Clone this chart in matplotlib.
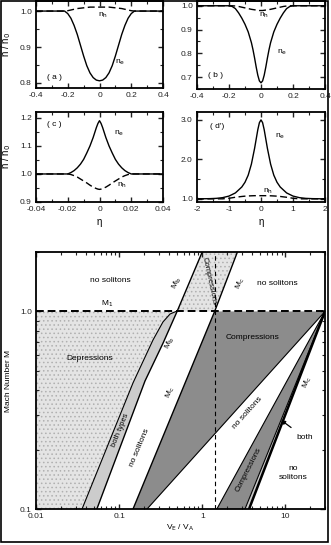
import matplotlib
matplotlib.use("Agg")
import matplotlib.pyplot as plt
from matplotlib.patches import Rectangle
from matplotlib.ticker import MultipleLocator, FuncFormatter, FixedLocator, LogLocator, NullFormatter

plt.rcParams["font.family"] = ["Liberation Sans", "DejaVu Sans"]
plt.rcParams["axes.unicode_minus"] = False
plt.rcParams["hatch.linewidth"] = 0.6

# soliton profiles, n / n0 against eta
eta_a = [-0.4, -0.3, -0.22, -0.2, -0.18, -0.16, -0.14, -0.12, -0.10, -0.08, -0.06, -0.04, -0.02, 0.0,
         0.02, 0.04, 0.06, 0.08, 0.10, 0.12, 0.14, 0.16, 0.18, 0.2, 0.22, 0.3, 0.4]
ne_a = [1.0, 1.0, 1.0, 0.993, 0.98, 0.96, 0.935, 0.905, 0.875, 0.848, 0.828, 0.815, 0.808, 0.806,
        0.808, 0.815, 0.828, 0.848, 0.875, 0.905, 0.935, 0.96, 0.98, 0.993, 1.0, 1.0, 1.0]
nh_a = [1.0, 1.0, 1.0, 1.001, 1.003, 1.005, 1.007, 1.008, 1.009, 1.010, 1.011, 1.011, 1.011, 1.011,
        1.011, 1.011, 1.011, 1.010, 1.009, 1.008, 1.007, 1.005, 1.003, 1.001, 1.0, 1.0, 1.0]

eta_b = [-0.4, -0.3, -0.2, -0.18, -0.16, -0.14, -0.12, -0.10, -0.08, -0.06, -0.05, -0.04, -0.03, -0.02, -0.01, 0.0,
         0.01, 0.02, 0.03, 0.04, 0.05, 0.06, 0.08, 0.10, 0.12, 0.14, 0.16, 0.18, 0.2, 0.3, 0.4]
ne_b = [1.0, 1.0, 1.0, 0.997, 0.988, 0.97, 0.948, 0.922, 0.89, 0.845, 0.815, 0.78, 0.742, 0.708, 0.684, 0.676,
        0.684, 0.708, 0.742, 0.78, 0.815, 0.845, 0.89, 0.922, 0.948, 0.97, 0.988, 0.997, 1.0, 1.0, 1.0]
nh_b = [1.0, 1.0, 1.0, 1.0, 0.999, 0.997, 0.994, 0.991, 0.988, 0.985, 0.984, 0.983, 0.982, 0.981, 0.98, 0.98,
        0.98, 0.981, 0.982, 0.983, 0.984, 0.985, 0.988, 0.991, 0.994, 0.997, 0.999, 1.0, 1.0, 1.0, 1.0]

eta_c = [-0.04, -0.03, -0.02, -0.018, -0.016, -0.014, -0.012, -0.010, -0.008, -0.006, -0.004, -0.002, -0.001, 0.0,
         0.001, 0.002, 0.004, 0.006, 0.008, 0.010, 0.012, 0.014, 0.016, 0.018, 0.02, 0.03, 0.04]
ne_c = [1.0, 1.0, 1.0, 1.005, 1.012, 1.022, 1.035, 1.052, 1.075, 1.10, 1.13, 1.165, 1.18, 1.19,
        1.18, 1.165, 1.13, 1.10, 1.075, 1.052, 1.035, 1.022, 1.012, 1.005, 1.0, 1.0, 1.0]
nh_c = [1.0, 1.0, 1.0, 0.998, 0.994, 0.989, 0.982, 0.975, 0.968, 0.96, 0.953, 0.948, 0.946, 0.945,
        0.946, 0.948, 0.953, 0.96, 0.968, 0.975, 0.982, 0.989, 0.994, 0.998, 1.0, 1.0, 1.0]

eta_d = [-2.0, -1.6, -1.4, -1.2, -1.0, -0.8, -0.6, -0.5, -0.4, -0.3, -0.2, -0.1, -0.05, 0.0,
         0.05, 0.1, 0.2, 0.3, 0.4, 0.5, 0.6, 0.8, 1.0, 1.2, 1.4, 1.6, 2.0]
ne_d = [1.0, 1.005, 1.012, 1.03, 1.07, 1.15, 1.30, 1.42, 1.60, 1.88, 2.28, 2.75, 2.93, 3.0,
        2.93, 2.75, 2.28, 1.88, 1.60, 1.42, 1.30, 1.15, 1.07, 1.03, 1.012, 1.005, 1.0]
nh_d = [1.0, 1.0, 1.0, 1.0, 1.015, 1.04, 1.06, 1.068, 1.073, 1.077, 1.08, 1.08, 1.08, 1.08,
        1.08, 1.08, 1.08, 1.077, 1.073, 1.068, 1.06, 1.04, 1.015, 1.0, 1.0, 1.0, 1.0]

# existence diagram boundaries, (V_E/V_A, M)
m1 = 1.0
v_dash = 1.41
dep_x = [0.0358, 0.147, 0.256, 0.337, 0.41, 0.484]
dep_y = [0.1, 0.435, 0.718, 0.885, 0.971, 1.0]
mb_x = [0.054, 0.205, 0.337, 0.498, 1.0]
mb_y = [0.1, 0.445, 0.69, 1.0, 2.0]
mc_x = [0.147, 1.41, 2.65]
mc_y = [0.1, 1.0, 2.0]
low_x = [0.217, 30.0]
edge_y = [0.1, 1.0]
ba_x = [1.5, 30.0]
bb_x = [3.27, 30.0]
bc_x = [3.66, 30.0]

W, H = 331, 545
fig = plt.figure(figsize=(W / 100, H / 100), dpi=100)


def setup(ax):
    ax.tick_params(which="both", direction="in", top=True, right=True, labelsize=6,
                   colors="#222222", pad=3)
    ax.tick_params(which="major", length=3.5, width=1.0)
    ax.tick_params(which="minor", length=2.0, width=0.8)
    for s in ax.spines.values():
        s.set_linewidth(1.3)


fmt1 = FuncFormatter(lambda v, p: "%.1f" % v)
fmtg = FuncFormatter(lambda v, p: "%g" % v)

panels = [
    ([36, 1, 127, 87], eta_a, ne_a, nh_a, (-0.4, 0.4), (0.786, 1.028), 0.2, 0.1, 0.1, 0.05),
    ([197, 1, 128, 88], eta_b, ne_b, nh_b, (-0.4, 0.4), (0.65, 1.02), 0.2, 0.1, 0.1, 0.05),
    ([36, 112, 127, 90], eta_c, ne_c, nh_c, (-0.04, 0.04), (0.9, 1.221), 0.02, 0.01, 0.1, 0.05),
    ([197, 112, 128, 90], eta_d, ne_d, nh_d, (-2, 2), (0.92, 3.2), 1, 0.5, 1.0, 0.5),
]
axes = []
for box, eta, ne, nh, xl, yl, xmaj, xmin, ymaj, ymin in panels:
    x0, y0, w, h = box
    ax = fig.add_axes([x0 / W, 1 - (y0 + h) / H, w / W, h / H])
    ax.plot(eta, ne, color="black", lw=1.0)
    ax.plot(eta, nh, color="black", lw=1.0, dashes=(5, 2.5))
    ax.set_xlim(*xl)
    ax.set_ylim(*yl)
    ax.xaxis.set_major_locator(MultipleLocator(xmaj))
    ax.xaxis.set_minor_locator(MultipleLocator(xmin))
    ax.yaxis.set_major_locator(MultipleLocator(ymaj))
    ax.yaxis.set_minor_locator(MultipleLocator(ymin))
    ax.xaxis.set_major_formatter(fmtg)
    ax.yaxis.set_major_formatter(fmt1)
    setup(ax)
    axes.append(ax)

ax_a, ax_b, ax_c, ax_d = axes
ax_a.text(-0.33, 0.81, "( a )", fontsize=6)
ax_a.text(-0.01, 0.988, r"n$_\mathrm{h}$", fontsize=6, va="center")
ax_a.text(0.10, 0.855, r"n$_\mathrm{e}$", fontsize=6)
ax_b.text(-0.33, 0.70, "( b )", fontsize=6)
ax_b.text(-0.01, 0.962, r"n$_\mathrm{h}$", fontsize=6, va="center")
ax_b.text(0.10, 0.80, r"n$_\mathrm{e}$", fontsize=6)
ax_c.text(-0.033, 1.17, "( c )", fontsize=6)
ax_c.text(0.009, 1.14, r"n$_\mathrm{e}$", fontsize=6)
ax_c.text(0.011, 0.955, r"n$_\mathrm{h}$", fontsize=6)
ax_d.text(-1.6, 2.8, "( d')", fontsize=6)
ax_d.text(0.45, 2.55, r"n$_\mathrm{e}$", fontsize=6)
ax_d.text(0.05, 1.15, r"n$_\mathrm{h}$", fontsize=6)
for ax in (ax_a, ax_c):
    ax.set_ylabel(r"n / n$_0$", fontsize=7, labelpad=5)
for ax in (ax_c, ax_d):
    ax.set_xlabel("η", fontsize=7, labelpad=3)

# Mach number diagram
ax = fig.add_axes([36 / W, 1 - 509 / H, 289 / W, 257 / H])
ax.set_xscale("log")
ax.set_yscale("log")
ax.set_xlim(0.01, 30)
ax.set_ylim(0.1, 2.0)

stip = dict(facecolor="#e4e4e4", edgecolor="#b0b0b0", hatch="....", lw=0)
ax.fill([0.01] + dep_x + [0.01], [0.1] + dep_y + [m1], **stip)
ax.fill([mb_x[3], mb_x[4], mc_x[2], mc_x[1]], [mb_y[3], mb_y[4], mc_y[2], mc_y[1]], **stip)
ax.fill(dep_x + mb_x[3::-1], dep_y + mb_y[3::-1], facecolor="#cccccc", lw=0)
ax.fill([mc_x[0], mc_x[1], low_x[1], low_x[0]], [0.1, m1, m1, 0.1], facecolor="#8c8c8c", lw=0)
ax.fill([ba_x[0], ba_x[1], bb_x[0]], [0.1, m1, 0.1], facecolor="#8c8c8c", lw=0)
ax.fill([bb_x[0], bb_x[1], bc_x[0]], [0.1, m1, 0.1], facecolor="#cccccc", lw=0)

ax.plot(dep_x, dep_y, color="black", lw=0.8)
ax.plot(mb_x, mb_y, color="black", lw=1.0)
ax.plot(mc_x, mc_y, color="black", lw=1.0)
ax.plot(low_x, edge_y, color="black", lw=0.8)
ax.plot(ba_x, edge_y, color="black", lw=0.8)
ax.plot(bb_x, edge_y, color="black", lw=0.8)
ax.plot(bc_x, edge_y, color="black", lw=1.8)
ax.axhline(m1, color="black", lw=1.4, dashes=(4, 2))
ax.axvline(v_dash, color="black", lw=0.8, dashes=(4, 3))

fs = 6
ax.text(0.0776, 1.44, "no solitons", fontsize=fs, ha="center", va="center")
ax.text(7.9, 1.39, "no solitons", fontsize=fs, ha="center", va="center")
ax.text(0.0714, 1.03, r"M$_1$", fontsize=fs, ha="center", va="bottom")
ax.text(0.0447, 0.58, "Depressions", fontsize=fs, ha="center", va="center")
ax.text(4.08, 0.734, "Compressions", fontsize=fs, ha="center", va="center")
ax.text(1.21, 1.42, "Compressions", fontsize=5.5, ha="center", va="center", rotation=-78)
ax.text(0.1025, 0.25, "both types", fontsize=5.5, ha="center", va="center", rotation=68)
ax.text(0.178, 0.205, "no solitons", fontsize=fs, ha="center", va="center", rotation=67)
ax.text(3.46, 0.306, "no solitons", fontsize=fs, ha="center", va="center", rotation=48)
ax.text(3.66, 0.158, "Compressions", fontsize=5.5, ha="center", va="center", rotation=63)
ax.text(12.4, 0.152, "no\nsolitons", fontsize=fs, ha="center", va="center", linespacing=1.3)
ax.annotate("both", xy=(8.87, 0.282), xytext=(17.3, 0.229), fontsize=fs, ha="center", va="center",
            arrowprops=dict(arrowstyle="-|>", color="black", lw=0.9, mutation_scale=6,
                            shrinkA=5, shrinkB=0))
ax.text(0.498, 1.39, r"M$_\mathrm{b}$", fontsize=fs, ha="center", va="center", rotation=65)
ax.text(2.85, 1.39, r"M$_\mathrm{c}$", fontsize=fs, ha="center", va="center", rotation=68)
ax.text(0.41, 0.69, r"M$_\mathrm{b}$", fontsize=fs, ha="center", va="center", rotation=65)
ax.text(0.41, 0.39, r"M$_\mathrm{c}$", fontsize=fs, ha="center", va="center", rotation=68)
ax.text(18.2, 0.435, r"M$_\mathrm{c}$", fontsize=fs, ha="center", va="center", rotation=68)

ax.xaxis.set_major_locator(FixedLocator([0.01, 0.1, 1, 10]))
ax.xaxis.set_major_formatter(fmtg)
ax.xaxis.set_minor_locator(LogLocator(subs=range(2, 10)))
ax.xaxis.set_minor_formatter(NullFormatter())
ax.yaxis.set_major_locator(FixedLocator([0.1, 1.0]))
ax.yaxis.set_major_formatter(fmt1)
ax.yaxis.set_minor_locator(LogLocator(subs=range(2, 10)))
ax.yaxis.set_minor_formatter(NullFormatter())
setup(ax)
ax.set_xlabel(r"V$_\mathrm{E}$ / V$_\mathrm{A}$", fontsize=6, labelpad=2)
ax.set_ylabel("Mach Number M", fontsize=6, labelpad=6)

fig.patches.append(Rectangle((0.002, 0.0055), 0.989, 0.9925, transform=fig.transFigure,
                             fill=False, lw=1.2, edgecolor="black"))
fig.savefig("out.png", dpi=100)
